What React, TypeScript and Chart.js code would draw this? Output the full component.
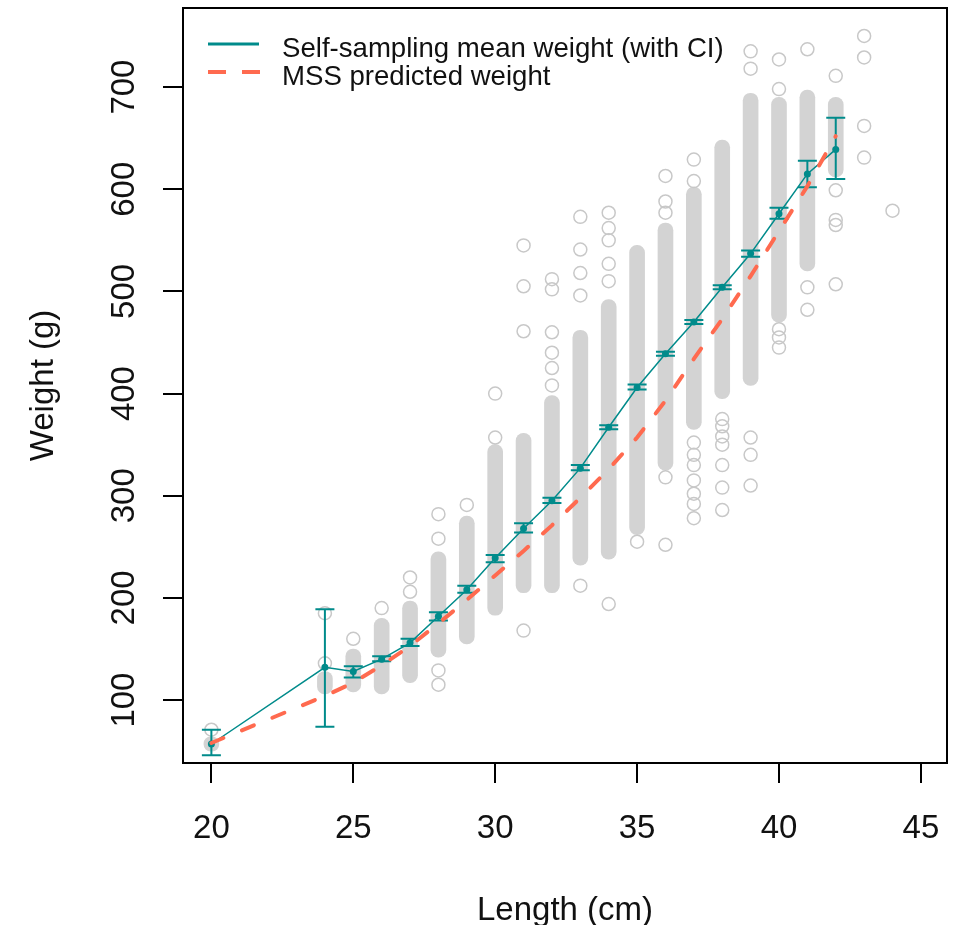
import React, { useEffect, useRef } from 'react';
import { Chart, registerables } from 'chart.js';

Chart.register(...registerables);

// ---- data ----
const lengths = [20, 24, 25, 26, 27, 28, 29, 30, 31, 32, 33, 34, 35, 36, 37, 38, 39, 40, 41, 42];
const meanWeight = [57, 132, 128, 140, 156, 182, 208, 239, 268, 295, 327, 367, 406, 439, 470, 504, 537, 576, 615, 639];
const ciLow = [46, 74, 122, 138, 153, 178, 205, 235, 264, 293, 325, 365, 404, 437, 468, 502, 534, 571, 602, 610];
const ciHigh = [71, 189, 133, 143, 160, 186, 212, 242, 273, 298, 330, 369, 409, 441, 472, 506, 540, 582, 628, 670];
const mssWeight = [58, 104, 117, 134, 153, 175, 198, 222, 246, 271, 298, 326, 357, 393, 434, 473, 515, 559, 603, 652];

// dense (overlapping) sample columns: visual extent of the solid band
const coreLength = [20, 24, 25, 26, 27, 28, 29, 30, 31, 32, 33, 34, 35, 36, 37, 38, 39, 40, 41, 42];
const coreLow = [50, 106, 108, 106, 117, 142, 155, 183, 205, 205, 232, 238, 262, 325, 365, 395, 408, 470, 520, 612];
const coreHigh = [64, 128, 150, 180, 197, 245, 280, 350, 361, 398, 462, 492, 545, 567, 602, 648, 694, 690, 697, 690];

// isolated sample points
const looseLength = [
  20,
  24, 24,
  25,
  26,
  27, 27,
  28, 28, 28, 28,
  29,
  30, 30,
  31, 31, 31, 31,
  32, 32, 32, 32, 32, 32,
  33, 33, 33, 33, 33,
  34, 34, 34, 34, 34, 34,
  35,
  36, 36, 36, 36, 36,
  37, 37, 37, 37, 37, 37, 37, 37, 37,
  38, 38, 38, 38, 38, 38, 38,
  39, 39, 39, 39, 39,
  40, 40, 40, 40, 40,
  41, 41, 41,
  42, 42, 42, 42, 42,
  43, 43, 43, 43,
  44,
];
const looseWeight = [
  71,
  136, 185,
  160,
  190,
  206, 220,
  258, 282, 129, 115,
  291,
  357, 400,
  461, 505, 545, 168,
  408, 425, 440, 460, 502, 512,
  496, 518, 541, 573, 212,
  510, 527, 550, 562, 577, 194,
  255,
  577, 588, 613, 318, 252,
  608, 629, 352, 340, 330, 315, 302, 292, 278,
  375, 368, 358, 350, 330, 308, 286,
  718, 735, 357, 340, 310,
  698, 727, 463, 455, 445,
  737, 504, 482,
  711, 599, 570, 565, 507,
  750, 729, 662, 631,
  579,
];

const xTicks = [20, 25, 30, 35, 40, 45];
const yTicks = [100, 200, 300, 400, 500, 600, 700];
const xTitle = 'Length (cm)';
const yTitle = 'Weight (g)';
const legendLabels = ['Self-sampling mean weight (with CI)', 'MSS predicted weight'];

const TEAL = '#008B8B';
const CORAL = '#FF6A4F';
const GRAY = '#D3D3D3';
const FONT = '"Liberation Sans", Arial, Helvetica, sans-serif';

export default function App() {
  const ref = useRef<HTMLCanvasElement>(null);

  useEffect(() => {
    const canvas = ref.current;
    if (!canvas) return;

    const boxPlugin = {
      id: 'boxPlugin',
      beforeDatasetsDraw(chart: any) {
        const { ctx, chartArea: a } = chart;
        ctx.save();
        ctx.strokeStyle = '#000';
        ctx.lineWidth = 2;
        ctx.strokeRect(a.left, a.top, a.right - a.left, a.bottom - a.top);
        ctx.restore();
      },
    };

    const errorBars = {
      id: 'errorBars',
      afterDatasetDraw(chart: any, args: any) {
        if (args.index !== 1) return;
        const { ctx } = chart;
        const xs = chart.scales.x;
        const ys = chart.scales.y;
        ctx.save();
        ctx.strokeStyle = TEAL;
        ctx.lineWidth = 2;
        lengths.forEach((L, i) => {
          const px = xs.getPixelForValue(L);
          const y1 = ys.getPixelForValue(ciLow[i]);
          const y2 = ys.getPixelForValue(ciHigh[i]);
          ctx.beginPath();
          ctx.moveTo(px, y1);
          ctx.lineTo(px, y2);
          ctx.moveTo(px - 9.5, y1);
          ctx.lineTo(px + 9.5, y1);
          ctx.moveTo(px - 9.5, y2);
          ctx.lineTo(px + 9.5, y2);
          ctx.stroke();
        });
        ctx.restore();
      },
    };

    const textPlugin = {
      id: 'textPlugin',
      afterDraw(chart: any) {
        const { ctx, chartArea: a } = chart;
        const xs = chart.scales.x;
        const ys = chart.scales.y;
        ctx.save();
        ctx.fillStyle = '#111';
        ctx.font = `33px ${FONT}`;
        ctx.textAlign = 'center';
        ctx.textBaseline = 'alphabetic';
        xTicks.forEach((v) => ctx.fillText(String(v), xs.getPixelForValue(v), 838));
        yTicks.forEach((v) => {
          ctx.save();
          ctx.translate(134, ys.getPixelForValue(v));
          ctx.rotate(-Math.PI / 2);
          ctx.fillText(String(v), 0, 0);
          ctx.restore();
        });
        ctx.fillText(xTitle, (a.left + a.right) / 2, 920);
        ctx.save();
        ctx.translate(53, (a.top + a.bottom) / 2);
        ctx.rotate(-Math.PI / 2);
        ctx.fillText(yTitle, 0, 0);
        ctx.restore();

        // legend
        ctx.lineCap = 'butt';
        ctx.strokeStyle = TEAL;
        ctx.lineWidth = 3;
        ctx.beginPath();
        ctx.moveTo(208, 44);
        ctx.lineTo(259, 44);
        ctx.stroke();
        ctx.strokeStyle = CORAL;
        ctx.lineWidth = 4;
        ctx.setLineDash([18, 16]);
        ctx.beginPath();
        ctx.moveTo(208, 72);
        ctx.lineTo(260, 72);
        ctx.stroke();
        ctx.setLineDash([]);
        ctx.font = `27.6px ${FONT}`;
        ctx.textAlign = 'left';
        ctx.fillText(legendLabels[0], 282, 57);
        ctx.fillText(legendLabels[1], 282, 85);
        ctx.restore();
      },
    };

    const chart = new Chart(canvas, {
      type: 'scatter',
      data: {
        datasets: [
          {
            type: 'line',
            label: legendLabels[1],
            data: lengths.map((x, i) => ({ x, y: mssWeight[i] })),
            borderColor: CORAL,
            borderWidth: 4,
            borderDash: [13, 20],
            borderCapStyle: 'round',
            pointRadius: 0,
            fill: false,
            tension: 0,
            order: 0,
          } as any,
          {
            type: 'line',
            label: legendLabels[0],
            data: lengths.map((x, i) => ({ x, y: meanWeight[i] })),
            borderColor: TEAL,
            borderWidth: 1.5,
            pointRadius: 3.5,
            pointBackgroundColor: TEAL,
            pointBorderWidth: 0,
            fill: false,
            tension: 0,
            order: 1,
          } as any,
          {
            type: 'scatter',
            label: 'samples',
            data: looseLength.map((x, i) => ({ x, y: looseWeight[i] })),
            pointRadius: 6.5,
            borderWidth: 1.5,
            borderColor: '#C8C8C8',
            backgroundColor: 'rgba(0,0,0,0)',
            showLine: false,
            order: 2,
          } as any,
          {
            type: 'bar',
            label: 'dense samples',
            data: coreLength.map((x, i) => ({ x, y: [coreLow[i], coreHigh[i]] })),
            backgroundColor: GRAY,
            borderWidth: 0,
            barThickness: 15,
            borderRadius: 7.5,
            borderSkipped: false,
            grouped: false,
            order: 3,
          } as any,
        ],
      },
      options: {
        responsive: false,
        animation: false,
        events: [],
        layout: { padding: { top: 7, right: 9, left: 0, bottom: 0 } },
        plugins: {
          legend: { display: false },
          tooltip: { enabled: false },
        },
        scales: {
          x: {
            type: 'linear',
            min: 19.0,
            max: 45.92,
            offset: false,
            afterBuildTicks: (s: any) => {
              s.ticks = xTicks.map((v) => ({ value: v }));
            },
            afterFit: (s: any) => {
              s.height = 162;
            },
            ticks: { display: false },
            grid: { offset: false, drawOnChartArea: false, drawTicks: true, tickLength: 20, color: '#000', lineWidth: 2 },
            border: { display: true, color: '#000', width: 2 },
          },
          y: {
            type: 'linear',
            min: 38.4,
            max: 777.4,
            afterBuildTicks: (s: any) => {
              s.ticks = yTicks.map((v) => ({ value: v }));
            },
            afterFit: (s: any) => {
              s.width = 183;
            },
            ticks: { display: false },
            grid: { drawOnChartArea: false, drawTicks: true, tickLength: 20, color: '#000', lineWidth: 2 },
            border: { display: true, color: '#000', width: 2 },
          },
        },
      } as any,
      plugins: [boxPlugin, errorBars, textPlugin],
    });

    return () => chart.destroy();
  }, []);

  return (
    <div style={{ position: 'absolute', left: 0, top: 0, width: 956, height: 925, background: '#fff' }}>
      <canvas ref={ref} width={956} height={925} style={{ display: 'block' }} />
    </div>
  );
}
